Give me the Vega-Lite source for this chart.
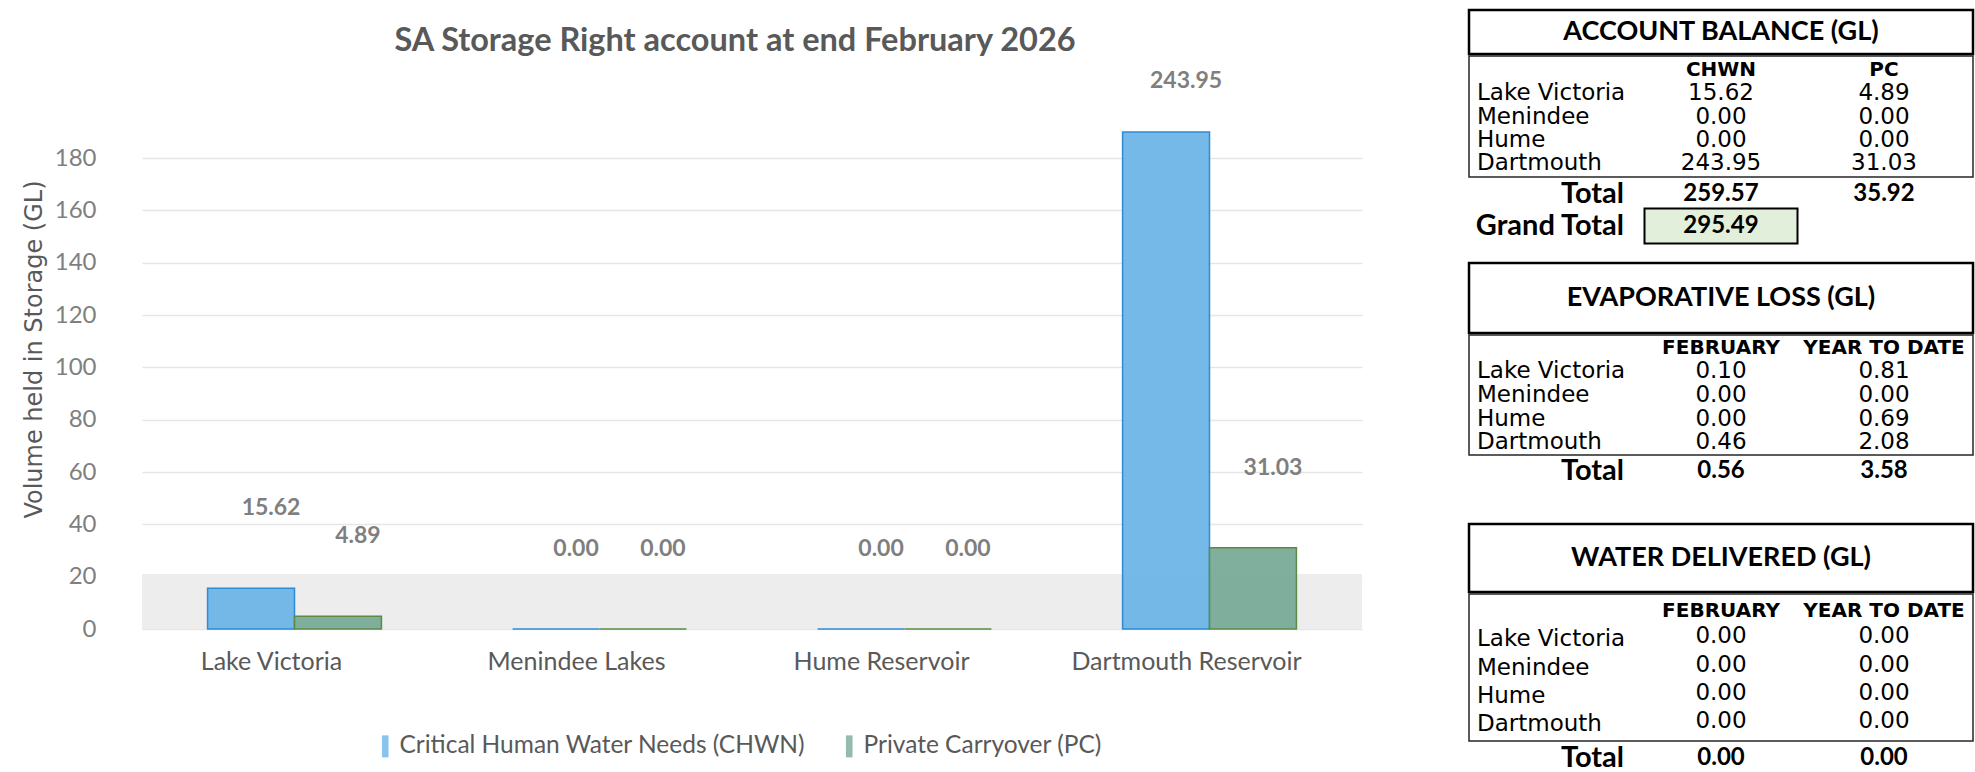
{
  "$schema": "https://vega.github.io/schema/vega-lite/v6.json",
  "background": "white",
  "padding": {"left": 22, "top": 8, "right": 0, "bottom": 0},
  "config": {"view": {"stroke": null}, "concat": {"spacing": 0}},
  "datasets": {
    "storage": [
      {"site": "Lake Victoria", "account": "Critical Human Water Needs (CHWN)", "value": 15.62},
      {"site": "Lake Victoria", "account": "Private Carryover (PC)", "value": 4.89},
      {"site": "Menindee Lakes", "account": "Critical Human Water Needs (CHWN)", "value": 0},
      {"site": "Menindee Lakes", "account": "Private Carryover (PC)", "value": 0},
      {"site": "Hume Reservoir", "account": "Critical Human Water Needs (CHWN)", "value": 0},
      {"site": "Hume Reservoir", "account": "Private Carryover (PC)", "value": 0},
      {"site": "Dartmouth Reservoir", "account": "Critical Human Water Needs (CHWN)", "value": 243.95},
      {"site": "Dartmouth Reservoir", "account": "Private Carryover (PC)", "value": 31.03}
    ],
    "balance": [
      {"station": "Lake Victoria", "c1": 15.62, "c2": 4.89},
      {"station": "Menindee", "c1": 0, "c2": 0},
      {"station": "Hume", "c1": 0, "c2": 0},
      {"station": "Dartmouth", "c1": 243.95, "c2": 31.03}
    ],
    "balance_head": [{"col": "c1", "label": "CHWN"}, {"col": "c2", "label": "PC"}],
    "balance_tot": [{"row": "Total", "c1": 259.57, "c2": 35.92}],
    "balance_grand": [{"row": "Grand Total", "c1": 295.49}],
    "evap": [
      {"station": "Lake Victoria", "c1": 0.10, "c2": 0.81},
      {"station": "Menindee", "c1": 0, "c2": 0},
      {"station": "Hume", "c1": 0, "c2": 0.69},
      {"station": "Dartmouth", "c1": 0.46, "c2": 2.08}
    ],
    "period_head": [{"col": "c1", "label": "FEBRUARY"}, {"col": "c2", "label": "YEAR TO DATE"}],
    "evap_tot": [{"row": "Total", "c1": 0.56, "c2": 3.58}],
    "deliv": [
      {"station": "Lake Victoria", "c1": 0, "c2": 0},
      {"station": "Menindee", "c1": 0, "c2": 0},
      {"station": "Hume", "c1": 0, "c2": 0},
      {"station": "Dartmouth", "c1": 0, "c2": 0}
    ],
    "deliv_tot": [{"row": "Total", "c1": 0, "c2": 0}]
  },
  "hconcat": [
    {
      "vconcat": [
        {
          "width": 1220, "height": 54,
          "view": {"stroke": null},
          "data": {"values": [{"title": "SA Storage Right account at end February 2026"}]},
          "mark": {"type": "text", "font": "Lato", "fontSize": 32.5, "fontWeight": "bold", "color": "#595959", "baseline": "middle", "dx": -17, "dy": 4},
          "encoding": {"text": {"field": "title"}}
        },
        {
          "width": 1220,
          "height": 497,
          "view": {"stroke": null},
          "layer": [
            {
              "data": {"values": [{"floor": "floor"}]},
              "mark": {"type": "rect", "color": "#ededed"},
              "encoding": {
                "y": {"datum": 0, "type": "quantitative"},
                "y2": {"datum": 21}
              }
            },
            {
              "data": {"name": "storage"},
              "mark": {"type": "bar", "strokeWidth": 1.5, "fillOpacity": 0.95},
              "encoding": {
                "x": {
                  "field": "site", "type": "nominal", "sort": null,
                  "scale": {"paddingInner": 0.43, "paddingOuter": 0.215},
                  "axis": {"title": null, "labelAngle": 0, "labelFont": "Lato", "labelFontSize": 25, "labelColor": "#595959", "labelPadding": 20, "labelOffset": -23, "labelLimit": 600, "domain": false, "ticks": false}
                },
                "xOffset": {"field": "account", "type": "nominal", "sort": null, "scale": {"paddingInner": 0, "paddingOuter": 0}},
                "y": {
                  "field": "value", "type": "quantitative",
                  "scale": {"domain": [0, 190], "clamp": true, "nice": false, "zero": true},
                  "axis": {"title": "Volume held in Storage (GL)", "values": [0, 20, 40, 60, 80, 100, 120, 140, 160, 180], "grid": true, "gridColor": "#e6e6e6", "gridWidth": 1.5, "domain": false, "ticks": false, "labelFont": "Lato", "labelFontSize": 24, "labelColor": "#7f7f7f", "labelPadding": 46, "titleFont": "DejaVu Sans", "titleFontSize": 24, "titleFontWeight": "normal", "titleColor": "#595959", "titlePadding": 8, "titleY": 217}
                },
                "color": {
                  "field": "account", "type": "nominal", "sort": null,
                  "scale": {"range": ["#6db5e7", "#79ab99"]},
                  "legend": {"title": null, "orient": "none", "legendX": 231, "legendY": 724, "direction": "horizontal", "labelFont": "Lato", "labelFontSize": 24.5, "labelColor": "#595959", "labelLimit": 600, "symbolType": "M-0.3,-1H0.3V1H-0.3Z", "symbolSize": 484, "symbolOpacity": 0.8, "symbolStrokeWidth": 0, "columnPadding": 31, "labelOffset": 2}
                },
                "stroke": {"field": "account", "type": "nominal", "sort": null, "scale": {"range": ["#2e8bd6", "#5e8b43"]}, "legend": null}
              }
            },
            {
              "data": {"name": "storage"},
              "transform": [{"filter": "datum.value <= 190"}],
              "mark": {"type": "text", "font": "Lato", "fontSize": 23, "fontWeight": "bold", "color": "#7f7f7f", "dx": 20, "dy": -80},
              "encoding": {
                "x": {"field": "site", "type": "nominal", "sort": null},
                "xOffset": {"field": "account", "type": "nominal", "sort": null},
                "y": {"field": "value", "type": "quantitative"},
                "text": {"field": "value", "type": "quantitative", "format": ".2f"}
              }
            },
            {
              "data": {"name": "storage"},
              "transform": [{"filter": "datum.value > 190"}],
              "mark": {"type": "text", "font": "Lato", "fontSize": 23, "fontWeight": "bold", "color": "#7f7f7f", "dx": 20, "dy": -51},
              "encoding": {
                "x": {"field": "site", "type": "nominal", "sort": null},
                "xOffset": {"field": "account", "type": "nominal", "sort": null},
                "y": {"field": "value", "type": "quantitative"},
                "text": {"field": "value", "type": "quantitative", "format": ".2f"}
              }
            }
          ]
        }
      ],
      "spacing": 6
    },
    {
      "vconcat": [
        {
          "vconcat": [
            {
              "width": 504, "height": 44,
              "view": {"stroke": "black", "strokeWidth": 2.5},
              "data": {"values": [{"t": "ACCOUNT BALANCE (GL)"}]},
              "mark": {"type": "text", "font": "Lato", "fontSize": 27, "fontWeight": "bold", "color": "black", "baseline": "middle"},
              "encoding": {"text": {"field": "t"}}
            },
            {
              "width": 504, "height": 121,
              "view": {"stroke": "#262626", "strokeWidth": 1.5},
              "layer": [
                {
                  "data": {"name": "balance_head"},
                  "mark": {"type": "text", "font": "DejaVu Sans", "fontSize": 20, "fontWeight": "bold", "color": "black"},
                  "encoding": {
                    "x": {"field": "col", "type": "nominal", "scale": {"type": "point", "domain": ["label", "c1", "c2"], "padding": 0.546}, "axis": null},
                    "y": {"datum": "header", "type": "nominal", "scale": {"type": "point", "domain": ["header", "Lake Victoria", "Menindee", "Hume", "Dartmouth"], "padding": 0.6}, "axis": null},
                    "text": {"field": "label"}
                  }
                },
                {
                  "data": {"name": "balance"},
                  "mark": {"type": "text", "font": "DejaVu Sans", "fontSize": 23, "color": "black", "align": "left", "dx": -81},
                  "encoding": {"x": {"datum": "label", "type": "nominal"}, "y": {"field": "station", "type": "nominal"}, "text": {"field": "station"}}
                },
                {
                  "data": {"name": "balance"},
                  "mark": {"type": "text", "font": "DejaVu Sans", "fontSize": 23, "color": "black"},
                  "encoding": {"x": {"datum": "c1", "type": "nominal"}, "y": {"field": "station", "type": "nominal"}, "text": {"field": "c1", "type": "quantitative", "format": ".2f"}}
                },
                {
                  "data": {"name": "balance"},
                  "mark": {"type": "text", "font": "DejaVu Sans", "fontSize": 23, "color": "black"},
                  "encoding": {"x": {"datum": "c2", "type": "nominal"}, "y": {"field": "station", "type": "nominal"}, "text": {"field": "c2", "type": "quantitative", "format": ".2f"}}
                }
              ]
            },
            {
              "width": 504, "height": 64,
              "view": {"stroke": null},
              "layer": [
                {
                  "data": {"name": "balance_grand"},
                  "mark": {"type": "rect", "width": 153, "height": 35, "fill": "#e2efda", "stroke": "black", "strokeWidth": 2},
                  "encoding": {
                    "x": {"datum": "c1", "type": "nominal", "scale": {"type": "point", "domain": ["label", "c1", "c2"], "padding": 0.546}, "axis": null},
                    "y": {"field": "row", "type": "nominal", "scale": {"type": "point", "domain": ["Total", "Grand Total"], "padding": 0.5}, "axis": null}
                  }
                },
                {
                  "data": {"name": "balance_tot"},
                  "mark": {"type": "text", "font": "Lato", "fontSize": 29, "fontWeight": "bold", "color": "black", "align": "right", "dx": 66},
                  "encoding": {"x": {"datum": "label", "type": "nominal"}, "y": {"field": "row", "type": "nominal"}, "text": {"field": "row"}}
                },
                {
                  "data": {"name": "balance_grand"},
                  "mark": {"type": "text", "font": "Lato", "fontSize": 29, "fontWeight": "bold", "color": "black", "align": "right", "dx": 66},
                  "encoding": {"x": {"datum": "label", "type": "nominal"}, "y": {"field": "row", "type": "nominal"}, "text": {"field": "row"}}
                },
                {
                  "data": {"name": "balance_tot"},
                  "mark": {"type": "text", "font": "Lato", "fontSize": 24, "fontWeight": "bold", "color": "black"},
                  "encoding": {"x": {"datum": "c1", "type": "nominal"}, "y": {"field": "row", "type": "nominal"}, "text": {"field": "c1", "type": "quantitative", "format": ".2f"}}
                },
                {
                  "data": {"name": "balance_tot"},
                  "mark": {"type": "text", "font": "Lato", "fontSize": 24, "fontWeight": "bold", "color": "black"},
                  "encoding": {"x": {"datum": "c2", "type": "nominal"}, "y": {"field": "row", "type": "nominal"}, "text": {"field": "c2", "type": "quantitative", "format": ".2f"}}
                },
                {
                  "data": {"name": "balance_grand"},
                  "mark": {"type": "text", "font": "Lato", "fontSize": 24, "fontWeight": "bold", "color": "black"},
                  "encoding": {"x": {"datum": "c1", "type": "nominal"}, "y": {"field": "row", "type": "nominal"}, "text": {"field": "c1", "type": "quantitative", "format": ".2f"}}
                }
              ]
            }
          ],
          "spacing": -2
        },
        {
          "vconcat": [
            {
              "width": 504, "height": 70,
              "view": {"stroke": "black", "strokeWidth": 2.5},
              "data": {"values": [{"t": "EVAPORATIVE LOSS (GL)"}]},
              "mark": {"type": "text", "font": "Lato", "fontSize": 27, "fontWeight": "bold", "color": "black", "baseline": "middle"},
              "encoding": {"text": {"field": "t"}}
            },
            {
              "width": 504, "height": 120,
              "view": {"stroke": "#262626", "strokeWidth": 1.5},
              "layer": [
                {
                  "data": {"name": "period_head"},
                  "mark": {"type": "text", "font": "DejaVu Sans", "fontSize": 20, "fontWeight": "bold", "color": "black"},
                  "encoding": {
                    "x": {"field": "col", "type": "nominal", "scale": {"type": "point", "domain": ["label", "c1", "c2"], "padding": 0.546}, "axis": null},
                    "y": {"datum": "header", "type": "nominal", "scale": {"type": "point", "domain": ["header", "Lake Victoria", "Menindee", "Hume", "Dartmouth"], "padding": 0.55}, "axis": null},
                    "text": {"field": "label"}
                  }
                },
                {
                  "data": {"name": "evap"},
                  "mark": {"type": "text", "font": "DejaVu Sans", "fontSize": 23, "color": "black", "align": "left", "dx": -81},
                  "encoding": {"x": {"datum": "label", "type": "nominal"}, "y": {"field": "station", "type": "nominal"}, "text": {"field": "station"}}
                },
                {
                  "data": {"name": "evap"},
                  "mark": {"type": "text", "font": "DejaVu Sans", "fontSize": 23, "color": "black"},
                  "encoding": {"x": {"datum": "c1", "type": "nominal"}, "y": {"field": "station", "type": "nominal"}, "text": {"field": "c1", "type": "quantitative", "format": ".2f"}}
                },
                {
                  "data": {"name": "evap"},
                  "mark": {"type": "text", "font": "DejaVu Sans", "fontSize": 23, "color": "black"},
                  "encoding": {"x": {"datum": "c2", "type": "nominal"}, "y": {"field": "station", "type": "nominal"}, "text": {"field": "c2", "type": "quantitative", "format": ".2f"}}
                }
              ]
            },
            {
              "width": 504, "height": 50,
              "view": {"stroke": null},
              "layer": [
                {
                  "data": {"name": "evap_tot"},
                  "mark": {"type": "text", "font": "Lato", "fontSize": 29, "fontWeight": "bold", "color": "black", "align": "right", "dx": 66},
                  "encoding": {
                    "x": {"datum": "label", "type": "nominal", "scale": {"type": "point", "domain": ["label", "c1", "c2"], "padding": 0.546}, "axis": null},
                    "y": {"field": "row", "type": "nominal", "scale": {"type": "point", "domain": ["Total", "blank"], "padding": 0.75}, "axis": null},
                    "text": {"field": "row"}
                  }
                },
                {
                  "data": {"name": "evap_tot"},
                  "mark": {"type": "text", "font": "Lato", "fontSize": 24, "fontWeight": "bold", "color": "black"},
                  "encoding": {"x": {"datum": "c1", "type": "nominal"}, "y": {"field": "row", "type": "nominal"}, "text": {"field": "c1", "type": "quantitative", "format": ".2f"}}
                },
                {
                  "data": {"name": "evap_tot"},
                  "mark": {"type": "text", "font": "Lato", "fontSize": 24, "fontWeight": "bold", "color": "black"},
                  "encoding": {"x": {"datum": "c2", "type": "nominal"}, "y": {"field": "row", "type": "nominal"}, "text": {"field": "c2", "type": "quantitative", "format": ".2f"}}
                }
              ]
            }
          ],
          "spacing": -2
        },
        {
          "vconcat": [
            {
              "width": 504, "height": 68,
              "view": {"stroke": "black", "strokeWidth": 2.5},
              "data": {"values": [{"t": "WATER DELIVERED (GL)"}]},
              "mark": {"type": "text", "font": "Lato", "fontSize": 27, "fontWeight": "bold", "color": "black", "baseline": "middle"},
              "encoding": {"text": {"field": "t"}}
            },
            {
              "width": 504, "height": 147,
              "view": {"stroke": "#262626", "strokeWidth": 1.5},
              "layer": [
                {
                  "data": {"name": "period_head"},
                  "mark": {"type": "text", "font": "DejaVu Sans", "fontSize": 20, "fontWeight": "bold", "color": "black"},
                  "encoding": {
                    "x": {"field": "col", "type": "nominal", "scale": {"type": "point", "domain": ["label", "c1", "c2"], "padding": 0.546}, "axis": null},
                    "y": {"datum": "header", "type": "nominal", "scale": {"type": "point", "domain": ["header", "Lake Victoria", "Menindee", "Hume", "Dartmouth"], "padding": 0.59}, "axis": null},
                    "text": {"field": "label"}
                  }
                },
                {
                  "data": {"name": "deliv"},
                  "mark": {"type": "text", "font": "DejaVu Sans", "fontSize": 23, "color": "black", "align": "left", "dx": -81},
                  "encoding": {"x": {"datum": "label", "type": "nominal"}, "y": {"field": "station", "type": "nominal"}, "text": {"field": "station"}}
                },
                {
                  "data": {"name": "deliv"},
                  "mark": {"type": "text", "font": "DejaVu Sans", "fontSize": 23, "color": "black", "dy": -3},
                  "encoding": {"x": {"datum": "c1", "type": "nominal"}, "y": {"field": "station", "type": "nominal"}, "text": {"field": "c1", "type": "quantitative", "format": ".2f"}}
                },
                {
                  "data": {"name": "deliv"},
                  "mark": {"type": "text", "font": "DejaVu Sans", "fontSize": 23, "color": "black", "dy": -3},
                  "encoding": {"x": {"datum": "c2", "type": "nominal"}, "y": {"field": "station", "type": "nominal"}, "text": {"field": "c2", "type": "quantitative", "format": ".2f"}}
                }
              ]
            },
            {
              "width": 504, "height": 32,
              "view": {"stroke": null},
              "layer": [
                {
                  "data": {"name": "deliv_tot"},
                  "mark": {"type": "text", "font": "Lato", "fontSize": 29, "fontWeight": "bold", "color": "black", "align": "right", "dx": 66},
                  "encoding": {
                    "x": {"datum": "label", "type": "nominal", "scale": {"type": "point", "domain": ["label", "c1", "c2"], "padding": 0.546}, "axis": null},
                    "y": {"field": "row", "type": "nominal", "scale": {"type": "point", "domain": ["Total"], "padding": 0.5}, "axis": null},
                    "text": {"field": "row"}
                  }
                },
                {
                  "data": {"name": "deliv_tot"},
                  "mark": {"type": "text", "font": "Lato", "fontSize": 24, "fontWeight": "bold", "color": "black"},
                  "encoding": {"x": {"datum": "c1", "type": "nominal"}, "y": {"field": "row", "type": "nominal"}, "text": {"field": "c1", "type": "quantitative", "format": ".2f"}}
                },
                {
                  "data": {"name": "deliv_tot"},
                  "mark": {"type": "text", "font": "Lato", "fontSize": 24, "fontWeight": "bold", "color": "black"},
                  "encoding": {"x": {"datum": "c2", "type": "nominal"}, "y": {"field": "row", "type": "nominal"}, "text": {"field": "c2", "type": "quantitative", "format": ".2f"}}
                }
              ]
            }
          ],
          "spacing": -2
        }
      ],
      "spacing": 16
    }
  ],
  "spacing": 105
}
